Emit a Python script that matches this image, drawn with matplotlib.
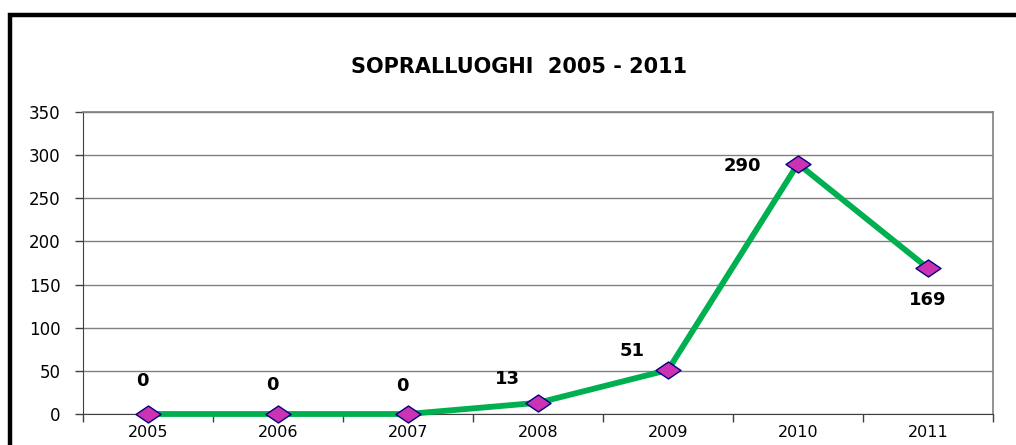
import matplotlib
matplotlib.use("Agg")
import matplotlib.pyplot as plt
from matplotlib.patches import Rectangle
from matplotlib.path import Path
import numpy as np

plt.rcParams["font.family"] = ["DejaVu Sans"]

YEARS = ["2005", "2006", "2007", "2008", "2009", "2010", "2011"]
SOPRALLUOGHI = [0, 0, 0, 13, 51, 290, 169]

# label offsets in pixels (dx, dy) relative to each point
LABEL_OFFSETS = [(-6, 33), (-6, 29), (-6, 28), (-31, 24), (-36, 19), (-56, -2), (0, -32)]

GREEN = "#00B050"
MAGENTA = "#CC33B3"
NAVY = "#000080"
GRID = "#808080"

fig = plt.figure(figsize=(10.16, 4.45), dpi=100)
W, H = 1016, 445

# outer chart frame (runs off the right and bottom edges)
fig.patches.append(Rectangle((10 / W, -0.1), 1.2, 1 - 15 / H + 0.1,
                             transform=fig.transFigure, fill=False,
                             edgecolor="black", linewidth=3.2, zorder=0))

left, right, top, bottom = 83, 993, 112, 414
ax = fig.add_axes([left / W, 1 - bottom / H, (right - left) / W, (bottom - top) / H])

x = np.arange(len(YEARS))
ax.set_xlim(-0.5, len(YEARS) - 0.5)
ax.set_ylim(0, 350)

ax.set_yticks(range(0, 351, 50))
ax.grid(axis="y", color=GRID, linewidth=1.0)
ax.set_axisbelow(True)

ax.set_xticks(x)
ax.set_xticklabels(YEARS)
ax.set_xticks(np.arange(-0.5, len(YEARS) - 0.4, 1.0), minor=True)
ax.tick_params(axis="x", which="major", length=0, pad=8, labelsize=11.5, colors="black")
ax.tick_params(axis="x", which="minor", length=6, width=1, color="#404040", direction="out")
ax.tick_params(axis="y", length=6, width=1, color="#404040", pad=10, labelsize=12, labelcolor="black")

for side in ["top", "right"]:
    ax.spines[side].set_color(GRID)
    ax.spines[side].set_linewidth(1.2)
ax.spines["left"].set_color("#404040")
ax.spines["bottom"].set_color("#404040")

diamond = Path([(-1, 0), (0, 0.68), (1, 0), (0, -0.68), (-1, 0)],
               [Path.MOVETO, Path.LINETO, Path.LINETO, Path.LINETO, Path.CLOSEPOLY])

ax.plot(x, SOPRALLUOGHI, color=GREEN, linewidth=4.2, solid_capstyle="round",
        solid_joinstyle="round", zorder=3, clip_on=False)
ax.plot(x, SOPRALLUOGHI, linestyle="none", marker=diamond, markersize=18,
        markerfacecolor=MAGENTA, markeredgecolor=NAVY, markeredgewidth=1.0,
        zorder=4, clip_on=False)

for xi, v, (dx, dy) in zip(x, SOPRALLUOGHI, LABEL_OFFSETS):
    ax.annotate(str(v), (xi, v), xytext=(dx * 0.72, dy * 0.72), textcoords="offset points",
                ha="center", va="center", fontsize=13, fontweight="bold", color="black")

fig.text(519 / W, 1 - 67 / H, "SOPRALLUOGHI  2005 - 2011", ha="center", va="center",
         fontsize=15, fontweight="bold", color="black")

fig.savefig("out.png", dpi=100, facecolor="white")
